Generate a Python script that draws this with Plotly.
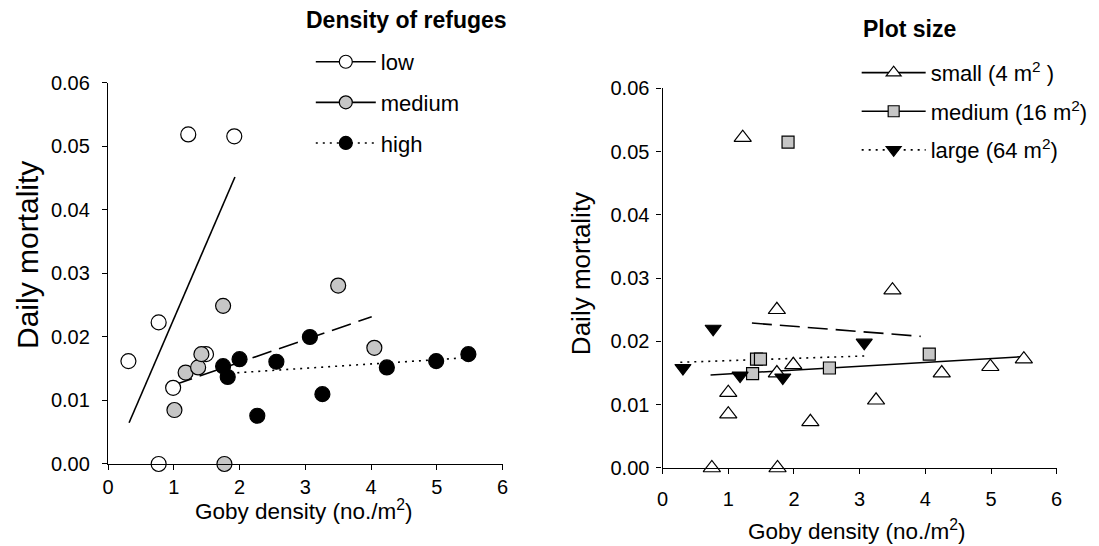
import plotly.graph_objects as go

# ---------------- Left panel: density of refuges ----------------
low_x = [0.31, 0.77, 1.22, 1.92, 0.99, 0.77, 1.49]
low_y = [0.0162, 0.0223, 0.0519, 0.0516, 0.0120, 0.0000, 0.0173]
medR_x = [1.01, 1.18, 1.37, 1.42, 1.75, 1.77, 3.50, 4.05]
medR_y = [0.0085, 0.0144, 0.0152, 0.0173, 0.0249, 0.0000, 0.0281, 0.0183]
high_x = [1.75, 1.82, 2.00, 2.27, 2.56, 3.07, 3.26, 4.24, 4.99, 5.48]
high_y = [0.0154, 0.0137, 0.0165, 0.0076, 0.0161, 0.0200, 0.0110, 0.0152, 0.0162, 0.0173]
low_fit_x = [0.32, 1.93]
low_fit_y = [0.0065, 0.0452]
medR_fit_x = [0.99, 4.01]
medR_fit_y = [0.0124, 0.0232]
high_fit_x = [1.86, 5.40]
high_fit_y = [0.0143, 0.0167]

# ---------------- Right panel: plot size ----------------
small_x = [1.22, 1.74, 1.00, 1.00, 0.75, 1.75, 1.74, 1.99, 2.25, 3.50, 3.25, 4.25, 4.99, 5.50]
small_y = [0.0522, 0.0250, 0.0119, 0.0085, 0.0000, 0.0000, 0.0150, 0.0163, 0.0073, 0.0281, 0.0107, 0.0150, 0.0160, 0.0172]
medP_x = [1.91, 1.43, 1.49, 1.37, 2.54, 4.06]
medP_y = [0.0515, 0.0172, 0.0172, 0.0149, 0.0158, 0.0180]
large_x = [0.31, 0.77, 1.18, 1.83, 3.07]
large_y = [0.0158, 0.0220, 0.0146, 0.0143, 0.0198]
small_fit_x = [0.73, 5.50]
small_fit_y = [0.0147, 0.0176]
medP_fit_x = [1.36, 3.93]
medP_fit_y = [0.0229, 0.0208]
large_fit_x = [0.27, 3.07]
large_fit_y = [0.0167, 0.0177]

legend_left_title = "Density of refuges"
legend_right_title = "Plot size"
legend_left = ["low", "medium", "high"]
legend_right = ["small (4 m<sup>2</sup> )", "medium (16 m<sup>2</sup>)", "large (64 m<sup>2</sup>)"]
x_title = "Goby density (no./m<sup>2</sup>)"
y_title = "Daily mortality"
x_ticks = [0, 1, 2, 3, 4, 5, 6]
y_ticks = [0.00, 0.01, 0.02, 0.03, 0.04, 0.05, 0.06]

FONT = "Liberation Sans, Arial, Helvetica, sans-serif"
GRAY = "#c6c6c6"
DASH = "20px,8px"
DOT = "2px,5px"

fig = go.Figure()


def fit(x, y, dash, xa, ya):
    fig.add_trace(go.Scatter(x=x, y=y, mode="lines", xaxis=xa, yaxis=ya,
                             line=dict(color="black", width=1.6, dash=dash),
                             showlegend=False, hoverinfo="skip"))


def pts(x, y, symbol, fill, size, xa, ya):
    fig.add_trace(go.Scatter(x=x, y=y, mode="markers", xaxis=xa, yaxis=ya, cliponaxis=False,
                             marker=dict(symbol=symbol, size=size, color=fill,
                                         line=dict(color="black", width=1.2)),
                             showlegend=False))


def leg(name, symbol, fill, size, dash, legend, group):
    fig.add_trace(go.Scatter(x=[None], y=[None], mode="lines+markers", name=name,
                             legend=legend, legendgroup=group,
                             line=dict(color="black", width=1.6, dash=dash),
                             marker=dict(symbol=symbol, size=size, color=fill,
                                         line=dict(color="black", width=1.2))))


# left panel
fit(low_fit_x, low_fit_y, "solid", "x", "y")
fit(medR_fit_x, medR_fit_y, DASH, "x", "y")
fit(high_fit_x, high_fit_y, DOT, "x", "y")
pts(low_x, low_y, "circle", "white", 15, "x", "y")
pts(medR_x, medR_y, "circle", GRAY, 15, "x", "y")
pts(high_x, high_y, "circle", "black", 15, "x", "y")

# right panel
fit(small_fit_x, small_fit_y, "solid", "x2", "y2")
fit(medP_fit_x, medP_fit_y, DASH, "x2", "y2")
fit(large_fit_x, large_fit_y, DOT, "x2", "y2")
pts(small_x, small_y, "triangle-up", "white", 15, "x2", "y2")
pts(medP_x, medP_y, "square", GRAY, 12, "x2", "y2")
pts(large_x, large_y, "triangle-down", "black", 14, "x2", "y2")

# legends
leg(legend_left[0], "circle", "white", 13, "solid", "legend", "a")
leg(legend_left[1], "circle", GRAY, 13, "solid", "legend", "b")
leg(legend_left[2], "circle", "black", 13, DOT, "legend", "c")
leg(legend_right[0], "triangle-up", "white", 13, "solid", "legend2", "d")
leg(legend_right[1], "square", GRAY, 11, "solid", "legend2", "e")
leg(legend_right[2], "triangle-down", "black", 13, DOT, "legend2", "f")

axis_common = dict(showline=True, linecolor="black", linewidth=1.3, ticks="outside",
                   ticklen=5, tickwidth=1.3, tickcolor="black", showgrid=False, zeroline=False,
                   tickfont=dict(family=FONT, size=20, color="black"), mirror=False,
                   automargin=False)

fig.update_layout(
    template="none",
    width=1099, height=546,
    margin=dict(l=0, r=0, t=0, b=0, pad=0, autoexpand=False),
    paper_bgcolor="white", plot_bgcolor="white",
    font=dict(family=FONT, color="black"),
    xaxis=dict(domain=[0.0983, 0.4573], range=[0, 6], tickvals=x_ticks, anchor="y",
               ticklabelstandoff=0, **axis_common),
    yaxis=dict(domain=[0.1502, 0.8480], range=[0, 0.06], tickvals=y_ticks, tickformat=".2f",
               anchor="x", ticklabelstandoff=8, **axis_common),
    xaxis2=dict(domain=[0.6029, 0.9615], range=[0, 6], tickvals=x_ticks, anchor="y2",
                ticklabelstandoff=8, **axis_common),
    yaxis2=dict(domain=[0.1429, 0.8383], range=[0, 0.06], tickvals=y_ticks, tickformat=".2f",
                anchor="x2", ticklabelstandoff=3, **axis_common),
    legend=dict(x=0.2828, y=0.925, xanchor="left", yanchor="top", bgcolor="rgba(0,0,0,0)",
                traceorder="grouped", tracegroupgap=9, itemwidth=60,
                font=dict(family=FONT, size=22, color="black")),
    legend2=dict(x=0.7795, y=0.905, xanchor="left", yanchor="top", bgcolor="rgba(0,0,0,0)",
                 traceorder="grouped", tracegroupgap=7, itemwidth=64,
                 font=dict(family=FONT, size=22, color="black")),
    annotations=[
        dict(text="<b>" + legend_left_title + "</b>", xref="paper", yref="paper",
             x=0.2765, y=0.963, xanchor="left", yanchor="middle", showarrow=False,
             font=dict(family=FONT, size=23, color="black")),
        dict(text="<b>" + legend_right_title + "</b>", xref="paper", yref="paper",
             x=0.783, y=0.947, xanchor="left", yanchor="middle", showarrow=False,
             font=dict(family=FONT, size=23, color="black")),
        dict(text=y_title, xref="paper", yref="paper", x=0.0255, y=0.533,
             xanchor="center", yanchor="middle",
             textangle=-90, showarrow=False, font=dict(family=FONT, size=30, color="black")),
        dict(text=y_title, xref="paper", yref="paper", x=0.5287, y=0.498,
             xanchor="center", yanchor="middle",
             textangle=-90, showarrow=False, font=dict(family=FONT, size=26, color="black")),
        dict(text=x_title, xref="paper", yref="paper", x=0.2766, y=0.066,
             xanchor="center", yanchor="middle",
             showarrow=False, font=dict(family=FONT, size=22.5, color="black")),
        dict(text=x_title, xref="paper", yref="paper", x=0.7798, y=0.029,
             xanchor="center", yanchor="middle",
             showarrow=False, font=dict(family=FONT, size=22.5, color="black")),
    ],
)

fig.write_html("out.html", config={"displayModeBar": False},
               post_script="document.body.style.margin='0';document.body.style.overflow='hidden';")
